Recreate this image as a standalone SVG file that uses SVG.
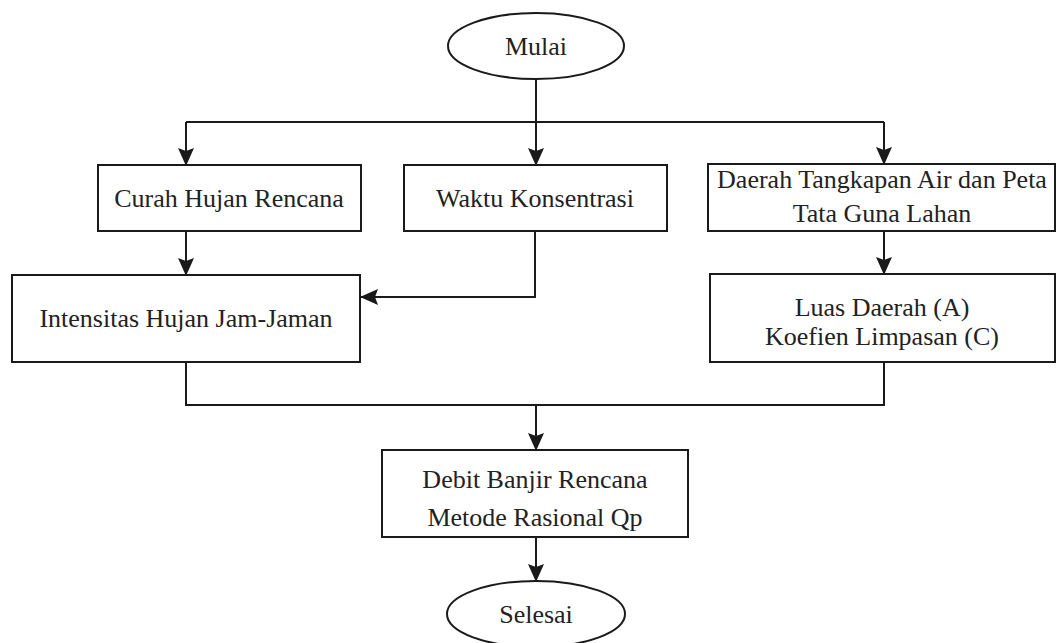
<svg xmlns="http://www.w3.org/2000/svg" width="1057" height="643" viewBox="0 0 1057 643">
<defs>
<marker id="arr" markerUnits="userSpaceOnUse" markerWidth="18" markerHeight="16" refX="17" refY="8" orient="auto">
<path d="M0,0 L18,8 L0,16 L3,8 z" fill="#1a1a1a"/>
</marker>
<style>
.n{fill:#fff;stroke:#1a1a1a;stroke-width:2}
.t{font-family:'Liberation Serif',serif;font-size:26px;fill:#222;text-anchor:middle}
.c{fill:none;stroke:#1a1a1a;stroke-width:2}
</style>
</defs>
<rect width="1057" height="643" fill="#fff"/>
<g id="connectors">
<path class="c" d="M536,79 V165" marker-end="url(#arr)"/>
<path class="c" d="M186,122 H884"/>
<path class="c" d="M186,122 V165" marker-end="url(#arr)"/>
<path class="c" d="M884,122 V164" marker-end="url(#arr)"/>
<path class="c" d="M186,231 V275" marker-end="url(#arr)"/>
<path class="c" d="M535,231 V297 H361" marker-end="url(#arr)"/>
<path class="c" d="M884,231 V274" marker-end="url(#arr)"/>
<path class="c" d="M186,362 V405 H884 V362"/>
<path class="c" d="M536,405 V450" marker-end="url(#arr)"/>
<path class="c" d="M536,537 V581" marker-end="url(#arr)"/>
</g>
<g id="mulai">
<ellipse class="n" cx="536" cy="46" rx="88" ry="33"/>
<text class="t" x="536" y="55">Mulai</text>
</g>
<g id="curah">
<rect class="n" x="98" y="165" width="263" height="66"/>
<text class="t" x="229" y="207">Curah Hujan Rencana</text>
</g>
<g id="waktu">
<rect class="n" x="404" y="165" width="263" height="66"/>
<text class="t" x="535" y="207">Waktu Konsentrasi</text>
</g>
<g id="daerah">
<rect class="n" x="708" y="164" width="347" height="67"/>
<text class="t" x="882" y="188">Daerah Tangkapan Air dan Peta</text>
<text class="t" x="882" y="222">Tata Guna Lahan</text>
</g>
<g id="intensitas">
<rect class="n" x="12" y="275" width="348" height="87"/>
<text class="t" x="186" y="327">Intensitas Hujan Jam-Jaman</text>
</g>
<g id="luas">
<rect class="n" x="710" y="274" width="345" height="88"/>
<text class="t" x="882" y="316">Luas Daerah (A)</text>
<text class="t" x="882" y="345">Koefien Limpasan (C)</text>
</g>
<g id="debit">
<rect class="n" x="382" y="450" width="306" height="87"/>
<text class="t" x="535" y="488">Debit Banjir Rencana</text>
<text class="t" x="535" y="526">Metode Rasional Qp</text>
</g>
<g id="selesai">
<ellipse class="n" cx="536" cy="614" rx="89" ry="33"/>
<text class="t" x="536" y="623">Selesai</text>
</g>
</svg>
